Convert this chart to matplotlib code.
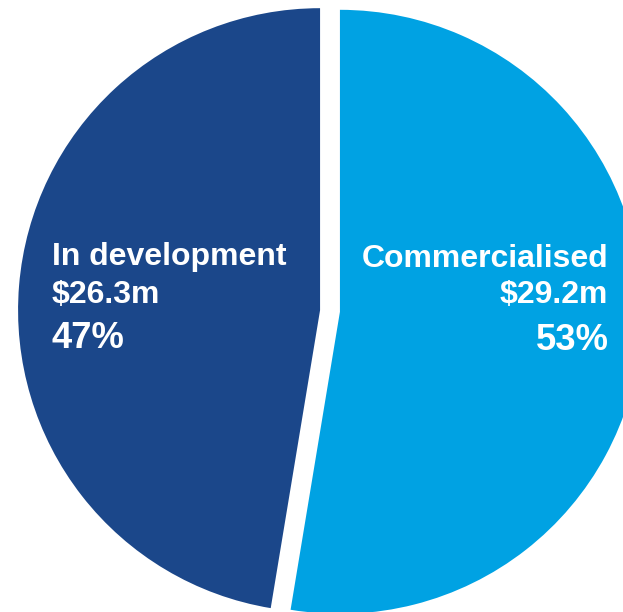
import matplotlib
matplotlib.use("Agg")
import matplotlib.pyplot as plt

# Data
labels = ["Commercialised", "In development"]
values = [29.2, 26.3]
amounts = ["$29.2m", "$26.3m"]
shares = ["53%", "47%"]
colors = ["#00a2e3", "#1b478a"]

W, H = 623, 612
fig = plt.figure(figsize=(W / 100, H / 100), dpi=100)
ax = fig.add_axes([0, 0, 1, 1])

ax.pie(values, colors=colors, startangle=90, counterclock=False,
       explode=[0.033, 0.033], radius=1.0,
       wedgeprops=dict(linewidth=0))

# pie centre sits at (330, 311) px, radius 302 px
cx, cy, r = 330, 311, 302
ax.set_xlim(-cx / r, (W - cx) / r)
ax.set_ylim((cy - H) / r, cy / r)
ax.set_aspect("auto")
ax.axis("off")

font = "Liberation Sans"
txt = dict(color="white", fontweight="bold", family=font, va="baseline")

def fy(px):
    return 1 - px / H

# left slice label
fig.text(52 / W, fy(265), labels[1], fontsize=23, ha="left", **txt)
fig.text(52 / W, fy(303), amounts[1], fontsize=23, ha="left", **txt)
fig.text(52 / W, fy(348), shares[1], fontsize=26.2, ha="left", **txt)

# right slice label
fig.text(608 / W, fy(267), labels[0], fontsize=23, ha="right", **txt)
fig.text(608 / W, fy(303), amounts[0], fontsize=23, ha="right", **txt)
fig.text(609 / W, fy(350), shares[0], fontsize=26.2, ha="right", **txt)

fig.savefig("out.png", dpi=100)
